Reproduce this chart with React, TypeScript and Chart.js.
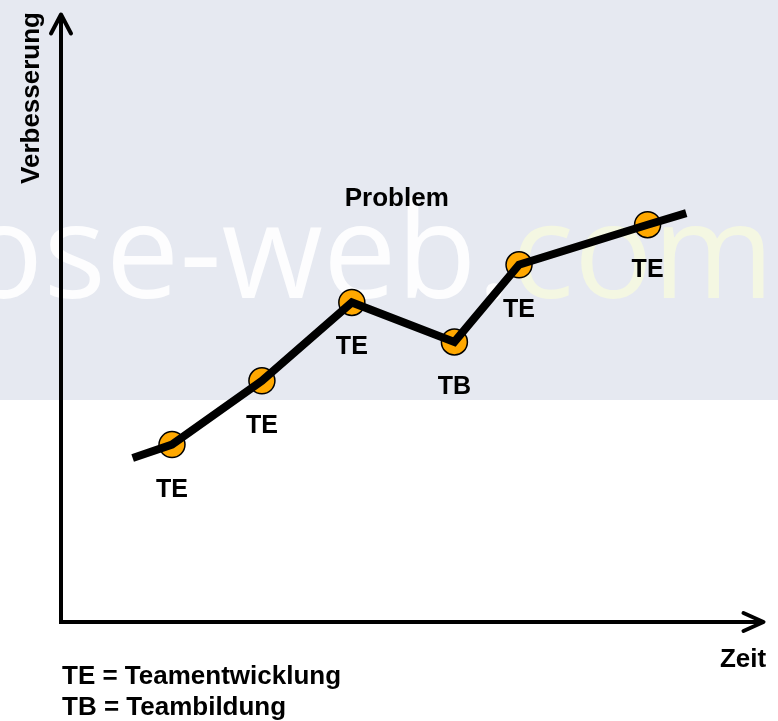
import React, { useEffect, useRef } from "react";
import { Chart, registerables } from "chart.js";

Chart.register(...registerables);

// Path of the improvement curve (time 0..100, improvement 0..100)
const lineTime = [10.2, 15.8, 28.6, 41.4, 56.0, 65.2, 83.5, 89.0];
const lineImprovement = [27.0, 29.2, 39.7, 52.6, 46.1, 58.8, 65.4, 67.3];

// Marked stages on the curve
const stageTime = [15.8, 28.6, 41.4, 56.0, 65.2, 83.5];
const stageImprovement = [29.2, 39.7, 52.6, 46.1, 58.8, 65.4];
const stageLabels = ["TE", "TE", "TE", "TB", "TE", "TE"];

const problemLabel = "Problem";
const problemTime = 47.8;
const problemImprovement = 69.6;

const yAxisTitle = "Verbesserung";
const xAxisTitle = "Zeit";
const legendLines = ["TE = Teamentwicklung", "TB = Teambildung"];
const watermarkMain = "ose-web.";
const watermarkEnd = "com";

const FONT = "'Liberation Sans', Arial, Helvetica, sans-serif";

const decorPlugin = {
  id: "decor",
  beforeDraw(chart: any) {
    const { ctx, width } = chart;
    ctx.save();
    ctx.fillStyle = "#ffffff";
    ctx.fillRect(0, 0, width, chart.height);
    ctx.fillStyle = "rgb(230,233,241)";
    ctx.fillRect(0, 0, width, 400);
    // watermark
    ctx.font = `400 131px 'Open Sans', 'DejaVu Sans', sans-serif`;
    ctx.textBaseline = "alphabetic";
    ctx.textAlign = "right";
    const rightX = 774;
    const wEnd = ctx.measureText(watermarkEnd).width;
    ctx.fillStyle = "rgb(244,247,226)";
    ctx.fillText(watermarkEnd, rightX, 298);
    ctx.fillStyle = "rgba(255,255,255,0.9)";
    ctx.fillText(watermarkMain, rightX - wEnd, 298);
    ctx.restore();
  },
  beforeDatasetsDraw(chart: any) {
    const { ctx, chartArea } = chart;
    const { left, right, top, bottom } = chartArea;
    ctx.save();
    ctx.strokeStyle = "#000";
    ctx.lineWidth = 4;
    ctx.lineCap = "butt";
    ctx.lineJoin = "miter";
    ctx.beginPath();
    ctx.moveTo(left, top + 1);
    ctx.lineTo(left, bottom);
    ctx.lineTo(right, bottom);
    ctx.stroke();
    ctx.lineCap = "round";
    ctx.lineJoin = "round";
    // y arrow
    ctx.beginPath();
    ctx.moveTo(left - 10, top + 19);
    ctx.lineTo(left, top);
    ctx.lineTo(left + 10, top + 19);
    ctx.stroke();
    // x arrow
    ctx.beginPath();
    ctx.moveTo(right - 20, bottom - 9);
    ctx.lineTo(right, bottom);
    ctx.lineTo(right - 20, bottom + 9);
    ctx.stroke();

    // axis titles
    ctx.fillStyle = "#000";
    ctx.font = `bold 26px ${FONT}`;
    ctx.textAlign = "center";
    ctx.textBaseline = "middle";
    ctx.save();
    ctx.translate(32, 98);
    ctx.rotate(-Math.PI / 2);
    ctx.fillText(yAxisTitle, 0, 0);
    ctx.restore();
    ctx.fillText(xAxisTitle, 743, 660);

    // legend
    ctx.textAlign = "left";
    legendLines.forEach((t, i) => ctx.fillText(t, 62, 677 + i * 31));
    ctx.restore();
  },
  afterDatasetsDraw(chart: any) {
    const { ctx, scales } = chart;
    ctx.save();
    ctx.fillStyle = "#000";
    ctx.font = `bold 25px ${FONT}`;
    ctx.textAlign = "center";
    ctx.textBaseline = "middle";
    stageLabels.forEach((lab, i) => {
      const x = scales.x.getPixelForValue(stageTime[i]);
      const y = scales.y.getPixelForValue(stageImprovement[i]);
      ctx.fillText(lab, x, y + 45);
    });
    ctx.font = `bold 26px ${FONT}`;
    ctx.fillText(
      problemLabel,
      scales.x.getPixelForValue(problemTime),
      scales.y.getPixelForValue(problemImprovement)
    );
    ctx.restore();
  },
};

export default function App() {
  const ref = useRef<HTMLCanvasElement | null>(null);
  useEffect(() => {
    if (!ref.current) return;
    const chart = new Chart(ref.current, {
      type: "scatter",
      data: {
        datasets: [
          {
            label: "Verlauf",
            data: lineTime.map((x, i) => ({ x, y: lineImprovement[i] })),
            showLine: true,
            borderColor: "#000",
            borderWidth: 8,
            borderCapStyle: "butt",
            borderJoinStyle: "miter",
            pointRadius: 0,
            tension: 0,
            order: 0,
          } as any,
          {
            label: "Phasen",
            data: stageTime.map((x, i) => ({ x, y: stageImprovement[i] })),
            showLine: false,
            pointRadius: 13,
            pointBackgroundColor: "#FFA800",
            pointBorderColor: "#000",
            pointBorderWidth: 1.5,
            order: 1,
          } as any,
        ],
      },
      options: {
        animation: false,
        responsive: false,
        devicePixelRatio: 1,
        events: [],
        layout: { padding: { left: 61, right: 8, top: 9, bottom: 99 } },
        plugins: { legend: { display: false }, tooltip: { enabled: false } },
        scales: {
          x: { type: "linear", min: 0, max: 100, display: false },
          y: { type: "linear", min: 0, max: 100, display: false },
        },
        clip: false as any,
      } as any,
      plugins: [decorPlugin],
    });
    return () => chart.destroy();
  }, []);
  return (
    <div style={{ position: "absolute", left: 0, top: 0, width: 778, height: 721 }}>
      <canvas ref={ref} width={778} height={721} style={{ display: "block" }} />
    </div>
  );
}
